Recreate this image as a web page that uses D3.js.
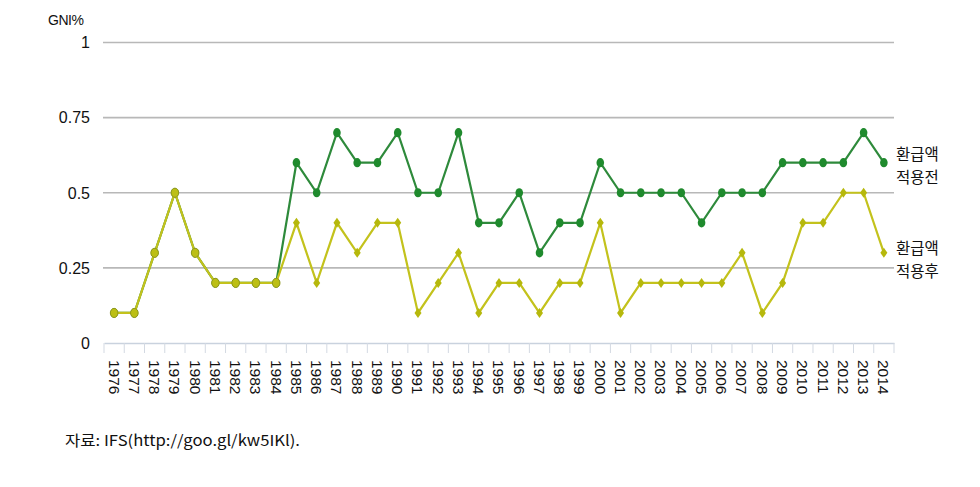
<!DOCTYPE html>
<html>
<head>
<meta charset="utf-8">
<script src="https://cdn.jsdelivr.net/npm/d3@7"></script>
<style>
  body { margin: 0; background: #fff; }
  text { font-family: "Liberation Sans", Arial, sans-serif; fill: #111; }
  .kr { font-family: "Noto Sans CJK KR", "Noto Sans", sans-serif; }
</style>
</head>
<body>
<div id="chart"></div>
<script>
// years on the x axis
var years = d3.range(1976, 2015).map(String);
// GNI% before refunds (환급액 적용전)
var beforeRefund = [0.1, 0.1, 0.3, 0.5, 0.3, 0.2, 0.2, 0.2, 0.2, 0.6,
  0.5, 0.7, 0.6, 0.6, 0.7, 0.5, 0.5, 0.7, 0.4, 0.4,
  0.5, 0.3, 0.4, 0.4, 0.6, 0.5, 0.5, 0.5, 0.5, 0.4,
  0.5, 0.5, 0.5, 0.6, 0.6, 0.6, 0.6, 0.7, 0.6];
// GNI% after refunds (환급액 적용후)
var afterRefund = [0.1, 0.1, 0.3, 0.5, 0.3, 0.2, 0.2, 0.2, 0.2, 0.4,
  0.2, 0.4, 0.3, 0.4, 0.4, 0.1, 0.2, 0.3, 0.1, 0.2,
  0.2, 0.1, 0.2, 0.2, 0.4, 0.1, 0.2, 0.2, 0.2, 0.2,
  0.2, 0.3, 0.1, 0.2, 0.4, 0.4, 0.5, 0.5, 0.3];
var yTicks = [0, 0.25, 0.5, 0.75, 1];
var yTickLabels = ["0", "0.25", "0.5", "0.75", "1"];

function drawChart() {
  var width = 980, height = 487;
  var svg = d3.select("#chart").append("svg")
    .attr("width", width)
    .attr("height", height);

  // scales
  var x = d3.scaleBand().domain(years).range([104, 894]);
  var y = d3.scaleLinear().domain([0, 1]).range([343, 42.5]);
  var cx = function(i) { return x(years[i]) + x.bandwidth() / 2; };

  // horizontal grid lines
  svg.append("g").selectAll("line")
    .data(yTicks.slice(1))
    .enter().append("line")
    .attr("x1", 103).attr("x2", 894)
    .attr("y1", function(d) { return y(d); })
    .attr("y2", function(d) { return y(d); })
    .attr("stroke", "#b8b8b8")
    .attr("stroke-width", 1.6);

  // y labels
  svg.append("g").selectAll("text")
    .data(yTicks)
    .enter().append("text")
    .attr("x", 90)
    .attr("y", function(d) { return y(d); })
    .attr("dy", "0.36em")
    .attr("text-anchor", "end")
    .style("font-size", "16px")
    .text(function(d, i) { return yTickLabels[i]; });

  svg.append("text")
    .attr("x", 48).attr("y", 25)
    .style("font-size", "14px")
    .style("letter-spacing", "-0.5px")
    .text("GNI%");

  // x axis box with tick cells
  var xAxis = svg.append("g")
    .attr("transform", "translate(0,343)")
    .call(d3.axisBottom(x).tickSize(0).tickFormat(""));
  xAxis.select(".domain").attr("stroke", "#c9d2de").attr("stroke-width", 1.5);
  svg.append("g").selectAll("line")
    .data(years.concat(["end"]))
    .enter().append("line")
    .attr("x1", function(d, i) { return x.range()[0] + i * x.bandwidth(); })
    .attr("x2", function(d, i) { return x.range()[0] + i * x.bandwidth(); })
    .attr("y1", 343).attr("y2", 353)
    .attr("stroke", "#d3d9e2")
    .attr("stroke-width", 1);

  // rotated year labels
  svg.append("g").selectAll("text")
    .data(years)
    .enter().append("text")
    .attr("transform", function(d, i) { return "translate(" + cx(i) + ",360) rotate(90)"; })
    .attr("dy", "0.36em")
    .style("font-size", "15.5px")
    .text(function(d) { return d; });

  var line = d3.line()
    .x(function(d, i) { return cx(i); })
    .y(function(d) { return y(d); });

  // before refund (green)
  svg.append("path")
    .datum(beforeRefund)
    .attr("fill", "none")
    .attr("stroke", "#2e8a3b")
    .attr("stroke-width", 2.2)
    .attr("d", line);
  svg.append("g").selectAll("ellipse")
    .data(beforeRefund)
    .enter().append("ellipse")
    .attr("cx", function(d, i) { return cx(i); })
    .attr("cy", function(d) { return y(d); })
    .attr("rx", 3.8).attr("ry", 4.6)
    .attr("fill", "#1f8a2d");

  // after refund (yellow)
  svg.append("path")
    .datum(afterRefund)
    .attr("fill", "none")
    .attr("stroke", "#c3c21c")
    .attr("stroke-width", 2.2)
    .attr("d", line);
  // early years show circles (overlapping series)
  svg.append("g").selectAll("ellipse")
    .data(afterRefund.slice(0, 9))
    .enter().append("ellipse")
    .attr("cx", function(d, i) { return cx(i); })
    .attr("cy", function(d) { return y(d); })
    .attr("rx", 3.8).attr("ry", 4.6)
    .attr("fill", "#bcbf14")
    .attr("stroke", "#8f971c")
    .attr("stroke-width", 1);
  svg.append("g").selectAll("path")
    .data(afterRefund.slice(9))
    .enter().append("path")
    .attr("transform", function(d, i) { return "translate(" + cx(i + 9) + "," + y(d) + ")"; })
    .attr("d", "M0,-5L3.5,0L0,5L-3.5,0Z")
    .attr("fill", "#b6b80c");

  // series labels, two lines each
  var labels = [
    { lines: ["환급액", "적용전"], y: 154 },
    { lines: ["환급액", "적용후"], y: 248 }
  ];
  labels.forEach(function(l) {
    l.lines.forEach(function(s, j) {
      svg.append("text")
        .attr("class", "kr")
        .attr("x", 896)
        .attr("y", l.y + j * 23)
        .attr("dy", "0.36em")
        .style("font-size", "15.5px")
        .text(s);
    });
  });

  // source
  svg.append("text")
    .attr("class", "kr")
    .attr("x", 65).attr("y", 441)
    .attr("dy", "0.36em")
    .attr("textLength", 235)
    .attr("lengthAdjust", "spacingAndGlyphs")
    .style("font-size", "15px")
    .text("자료: IFS(http://goo.gl/kw5IKl).");
}

window.onload = drawChart;
</script>
</body>
</html>
